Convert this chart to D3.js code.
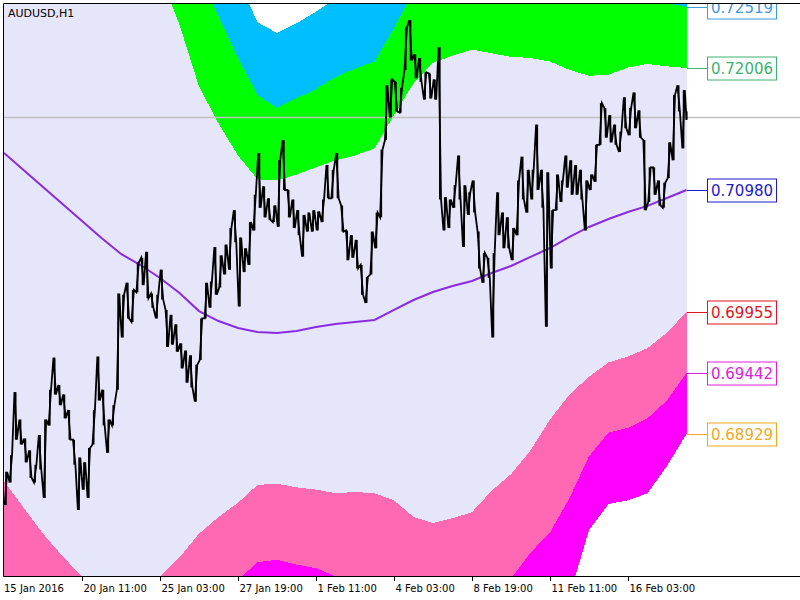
<!DOCTYPE html>
<html><head><meta charset="utf-8">
<script src="https://cdn.jsdelivr.net/npm/d3@7"></script>
<style>html,body{margin:0;padding:0;background:#fff;}svg{display:block;}</style>
</head><body>
<svg id="chart" width="800" height="600"></svg>
<script>
// ---------- DATA ----------
const symbolTitle = "AUDUSD,H1";
const firstBarTime = "2016-01-15T19:00:00Z";
const barCount = 561;
const tickLabels = ["15 Jan 2016","20 Jan 11:00","25 Jan 03:00","27 Jan 19:00","1 Feb 11:00","4 Feb 03:00","8 Feb 19:00","11 Feb 11:00","16 Feb 03:00"];
const tickTimes = ["2016-01-15T19:00:00Z","2016-01-20T11:00:00Z","2016-01-25T03:00:00Z","2016-01-27T19:00:00Z","2016-02-01T11:00:00Z","2016-02-04T03:00:00Z","2016-02-08T19:00:00Z","2016-02-11T11:00:00Z","2016-02-16T03:00:00Z"];

// price: high/low of each group of 4 hourly bars
const priceHigh = [0.6861,0.6875,0.6928,0.6905,0.6889,0.6879,0.6867,0.6892,0.6905,0.6930,
0.6957,0.6934,0.6926,0.6913,0.6888,0.6873,0.6869,0.6881,0.6913,0.6958,
0.6930,0.6905,0.6917,0.7011,0.7010,0.7020,0.7014,0.7037,0.7041,0.7046,
0.7011,0.7010,0.7031,0.6997,0.6993,0.6985,0.6969,0.6963,0.6959,0.6951,
0.6990,0.7020,0.7021,0.7050,0.7043,0.7052,0.7066,0.7081,0.7058,0.7049,
0.7071,0.7094,0.7129,0.7101,0.7091,0.7085,0.7123,0.7140,0.7098,0.7090,
0.7081,0.7077,0.7079,0.7081,0.7080,0.7090,0.7119,0.7115,0.7129,0.7085,
0.7064,0.7060,0.7056,0.7035,0.7025,0.7063,0.7079,0.7132,0.7186,0.7191,
0.7189,0.7184,0.7235,0.7241,0.7212,0.7209,0.7197,0.7196,0.7191,0.7218,
0.7092,0.7090,0.7102,0.7127,0.7102,0.7096,0.7106,0.7063,0.7045,0.7041,
0.7045,0.7096,0.7079,0.7075,0.7066,0.7106,0.7126,0.7115,0.7115,0.7153,
0.7115,0.7113,0.7081,0.7111,0.7106,0.7127,0.7123,0.7119,0.7115,0.7106,
0.7111,0.7136,0.7171,0.7167,0.7161,0.7153,0.7147,0.7176,0.7167,0.7180,
0.7165,0.7140,0.7117,0.7117,0.7106,0.7104,0.7138,0.7178,0.7186,0.7182,
0.7164];
const priceLow = [0.6833,0.6852,0.6888,0.6884,0.6869,0.6856,0.6852,0.6863,0.6839,0.6900,
0.6926,0.6917,0.6906,0.6888,0.6867,0.6829,0.6846,0.6839,0.6884,0.6921,
0.6900,0.6877,0.6900,0.6930,0.6974,0.6990,0.6987,0.7012,0.7018,0.7007,
0.6999,0.6990,0.7006,0.6966,0.6968,0.6962,0.6948,0.6936,0.6932,0.6920,
0.6955,0.6990,0.6999,0.7010,0.7016,0.7027,0.7031,0.7054,0.7000,0.7029,
0.7035,0.7064,0.7083,0.7075,0.7073,0.7071,0.7067,0.7098,0.7075,0.7066,
0.7060,0.7042,0.7063,0.7063,0.7064,0.7071,0.7091,0.7091,0.7091,0.7063,
0.7039,0.7041,0.7032,0.7010,0.7003,0.7027,0.7049,0.7075,0.7140,0.7159,
0.7164,0.7163,0.7199,0.7207,0.7192,0.7189,0.7174,0.7175,0.7174,0.7090,
0.7064,0.7066,0.7083,0.7090,0.7050,0.7077,0.7079,0.7032,0.7020,0.7024,
0.6974,0.7060,0.7049,0.7049,0.7039,0.7060,0.7090,0.7079,0.7090,0.7098,
0.7083,0.6983,0.7032,0.7081,0.7088,0.7100,0.7094,0.7094,0.7090,0.7064,
0.7098,0.7105,0.7136,0.7142,0.7138,0.7136,0.7130,0.7150,0.7144,0.7150,
0.7142,0.7081,0.7088,0.7094,0.7085,0.7083,0.7108,0.7123,0.7164,0.7133,
0.7157];
const lastPrice = 0.71594;

// indicator values, one every 16 bars
const maLine = [0.71291,0.71148,0.71005,0.70862,0.70719,0.70576,0.70442,0.70349,0.70240,0.70114,
0.69962,0.69878,0.69820,0.69786,0.69777,0.69794,0.69828,0.69853,0.69870,0.69887,
0.69971,0.70055,0.70122,0.70173,0.70215,0.70282,0.70341,0.70417,0.70492,0.70585,
0.70669,0.70736,0.70795,0.70846,0.70913,0.70980];
const upper2 = [0.7451,0.7434,0.7413,0.7392,0.7371,0.7350,0.7329,0.7304,0.7279,0.7237,
0.7185,0.7154,0.7127,0.7107,0.7106,0.7111,0.7117,0.7123,0.7127,0.7133,
0.7161,0.7188,0.7205,0.7211,0.7216,0.7213,0.7210,0.7209,0.7206,0.7199,
0.7194,0.7195,0.7201,0.7204,0.7202,0.72006];
const upper3 = [0.7573,0.7544,0.7514,0.7485,0.7455,0.7426,0.7397,0.7367,0.7338,0.7308,
0.7279,0.7244,0.7209,0.7178,0.7167,0.7175,0.7183,0.7193,0.7200,0.7206,
0.7234,0.7266,0.7279,0.7285,0.7290,0.7287,0.7283,0.7283,0.7281,0.7275,
0.7268,0.7265,0.7261,0.7258,0.7255,0.72519];
const upper4 = [0.7687,0.7653,0.7619,0.7586,0.7552,0.7519,0.7485,0.7451,0.7418,0.7384,
0.7350,0.7317,0.7275,0.7239,0.7230,0.7238,0.7248,0.7259,0.7270,0.7279,
0.7304,0.7338,0.7350,0.7359,0.7364,0.7361,0.7356,0.7357,0.7355,0.7350,
0.7342,0.7329,0.7321,0.7313,0.7308,0.7303];
const lower2 = [0.6853,0.6831,0.6809,0.6790,0.6773,0.6753,0.6736,0.6753,0.6773,0.6789,
0.6809,0.6823,0.6835,0.6850,0.6851,0.6848,0.6846,0.6843,0.6844,0.6843,
0.6837,0.6823,0.6818,0.6822,0.6827,0.6845,0.6859,0.6879,0.6905,0.6926,
0.6941,0.6953,0.6958,0.6965,0.6978,0.69955];
const lower3 = [0.6762,0.6741,0.6720,0.6703,0.6686,0.6669,0.6661,0.6678,0.6703,0.6724,
0.6745,0.6760,0.6770,0.6785,0.6787,0.6783,0.6780,0.6773,0.6766,0.6762,
0.6756,0.6749,0.6745,0.6749,0.6755,0.6762,0.6771,0.6793,0.6810,0.6839,
0.6874,0.6894,0.6898,0.6906,0.6921,0.69442];
const lower4 = [0.6669,0.6648,0.6627,0.6610,0.6593,0.6577,0.6568,0.6585,0.6610,0.6631,
0.6652,0.6669,0.6682,0.6703,0.6707,0.6703,0.6699,0.6693,0.6686,0.6679,
0.6673,0.6667,0.6661,0.6665,0.6673,0.6686,0.6703,0.6720,0.6736,0.6757,
0.6812,0.6834,0.6837,0.6843,0.6866,0.68929];

const levelValues = [0.72519,0.72006,0.70980,0.69955,0.69442,0.68929];
const levelTexts  = ["0.72519","0.72006","0.70980","0.69955","0.69442","0.68929"];
const levelColors = ["#3d9be6","#3cb371","#1a1acd","#e0141e","#e020e0","#f5a623"];

// ---------- LAYOUT ----------
const svg = d3.select("#chart");
const L = 4, T = 4, R = 800, B = 576;
const yMin = 0.67734, yMax = 0.72544;
const x = d3.scaleLinear().domain([0, barCount - 1]).range([L, 686.5]);
const y = d3.scaleLinear().domain([yMin, yMax]).range([B, T]);

// bar times (hourly, weekends skipped)
const times = [];
{ let t = Date.parse(firstBarTime);
  while (times.length < barCount) { const wd = new Date(t).getUTCDay(); if (wd !== 0 && wd !== 6) times.push(t); t += 3600000; } }
const barIndexOf = s => times.indexOf(Date.parse(s));

svg.append("rect").attr("width",800).attr("height",600).attr("fill","#fff");
svg.append("clipPath").attr("id","plot").append("rect").attr("x",L).attr("y",T).attr("width",R-L).attr("height",B-T);
const g = svg.append("g").attr("clip-path","url(#plot)");

const step = 16;
const band = (hi, lo, color) => {
  const area = d3.area().x((d,i)=>x(Math.min(i*step, barCount-1)) ).y0((d,i)=>y(lo[i])).y1((d,i)=>y(hi[i]));
  g.append("path").attr("d", area(hi)).attr("fill", color).attr("shape-rendering","crispEdges");
};
band(upper2, lower2, "#e6e6fa");
band(upper3, upper2, "#00ff00");
band(upper4, upper3, "#00bfff");
band(lower2, lower3, "#ff69b4");
band(lower3, lower4, "#ff00ff");

// last price line
g.append("line").attr("x1",L).attr("x2",R).attr("y1",Math.round(y(lastPrice))+0.5).attr("y2",Math.round(y(lastPrice))+0.5)
  .attr("stroke","#c0c0c0").attr("stroke-width",1.5);

// moving average
const maGen = d3.line().x((d,i)=>x(Math.min(i*step, barCount-1))).y(d=>y(d));
g.append("path").attr("d", maGen(maLine)).attr("fill","none").attr("stroke","#8a2be2").attr("stroke-width",2);

// price path (zig-zag through each group's high and low)
const pts = [];
for (let i = 0; i < priceHigh.length; i++) {
  const mid = (priceHigh[i] + priceLow[i]) / 2;
  const nextMid = i < priceHigh.length - 1 ? (priceHigh[i+1] + priceLow[i+1]) / 2 : mid;
  const a = Math.min(i*4 + 0.6, barCount-1), b = Math.min(i*4 + 2.6, barCount-1);
  if (nextMid >= mid) { pts.push([a, priceLow[i]]); pts.push([b, priceHigh[i]]); }
  else { pts.push([a, priceHigh[i]]); pts.push([b, priceLow[i]]); }
}
pts.push([barCount-1, lastPrice]);
g.append("path").attr("d", d3.line().x(d=>x(d[0])).y(d=>y(d[1]))(pts))
  .attr("fill","none").attr("stroke","#000").attr("stroke-width",1.8).attr("stroke-linejoin","miter");
// vertical high-low strokes
g.append("g").selectAll("line").data(priceHigh).join("line")
  .attr("x1",(d,i)=>x(Math.min(i*4+1.6, barCount-1))).attr("x2",(d,i)=>x(Math.min(i*4+1.6, barCount-1)))
  .attr("y1",d=>y(d)).attr("y2",(d,i)=>y(priceLow[i])).attr("stroke","#000").attr("stroke-width",1.6);

// level labels
levelValues.forEach((v,i)=>{
  const yy = Math.round(y(v)) + 0.5;
  g.append("line").attr("x1",687).attr("x2",707).attr("y1",yy).attr("y2",yy).attr("stroke",levelColors[i]).attr("stroke-width",1);
  g.append("rect").attr("x",707.5).attr("y",yy-11.5).attr("width",69).attr("height",23)
    .attr("fill","#fff").attr("stroke",levelColors[i]).attr("stroke-width",1);
  g.append("text").attr("x",711).attr("y",yy+5.5).attr("fill",levelColors[i])
    .attr("font-family","DejaVu Sans, Verdana, sans-serif").attr("font-size",15).text(levelTexts[i]);
});

// frame
svg.append("line").attr("x1",3.5).attr("x2",800).attr("y1",3.5).attr("y2",3.5).attr("stroke","#000");
svg.append("line").attr("x1",3.5).attr("x2",3.5).attr("y1",3.5).attr("y2",B+0.5).attr("stroke","#000");
svg.append("line").attr("x1",3.5).attr("x2",800).attr("y1",B+0.5).attr("y2",B+0.5).attr("stroke","#000");

// x axis ticks + labels
tickTimes.forEach((s,i)=>{
  const bi = barIndexOf(s);
  const xx = Math.round(x(bi)) + 0.5;
  if (i > 0) svg.append("line").attr("x1",xx).attr("x2",xx).attr("y1",B).attr("y2",B+5).attr("stroke","#000");
  svg.append("text").attr("x", i===0 ? 4 : xx+1).attr("y",592)
    .attr("font-family","DejaVu Sans, Verdana, sans-serif").attr("font-size",10).attr("fill","#000").text(tickLabels[i]);
});

// title
svg.append("text").attr("x",8).attr("y",17).attr("font-family","DejaVu Sans, Verdana, sans-serif")
  .attr("font-size",11).attr("fill","#000").text(symbolTitle);
</script>
</body></html>
